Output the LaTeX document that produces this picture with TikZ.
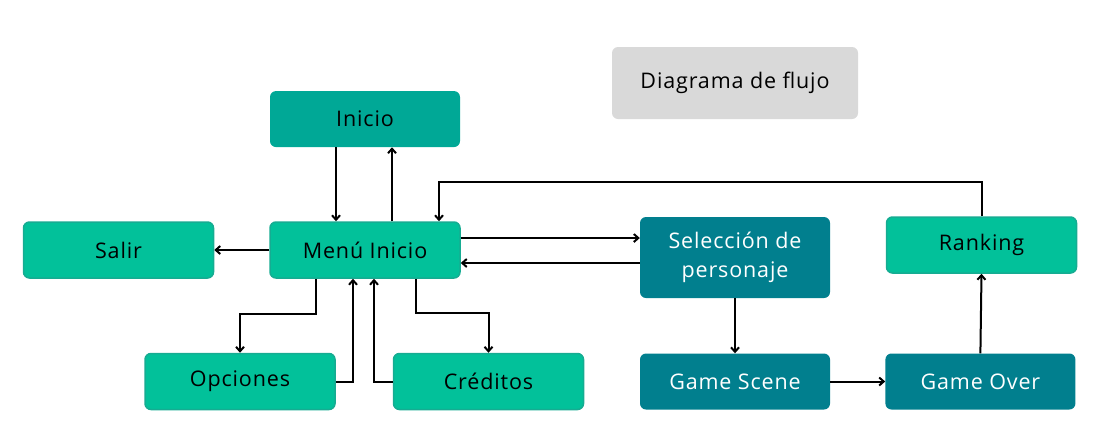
\documentclass[tikz,border=0pt]{standalone}
\usepackage{fontspec}
\setmainfont{Open Sans}[LetterSpace=4]
\usepackage{tikz}
\usetikzlibrary{arrows.meta, positioning, calc}

\definecolor{inicioteal}{RGB}{0,168,150}
\definecolor{mintgreen}{RGB}{2,193,154}
\definecolor{mintborder}{RGB}{22,172,146}
\definecolor{petrol}{RGB}{1,127,142}
\definecolor{titlegrey}{RGB}{217,217,217}

\begin{document}
\begin{tikzpicture}[
    x=1pt, y=-1pt,
    box/.style={rectangle, rounded corners=6pt, minimum width=190pt, minimum height=56pt, inner sep=0pt, align=center, font=\fontsize{21.5}{29}\selectfont},
    lightbox/.style={box, fill=mintgreen, draw=mintborder, line width=1.5pt, text=black},
    startbox/.style={box, fill=inicioteal, text=black},
    darkbox/.style={box, fill=petrol, text=white},
    titlebox/.style={box, fill=titlegrey, minimum width=246pt, minimum height=72pt, text=black},
    arrow/.style={-{Straight Barb[length=4.5pt, width=8pt]}, line width=2pt, draw=black}
  ]
    \useasboundingbox (0,0) rectangle (1106,445);

    % Nodes (title)
    \node[titlebox] (title) at (735,83) {Diagrama de flujo};

    % Nodes (menu part)
    \node[lightbox] (menu) at (365,250) {Menú Inicio};
    \node[startbox, above=74pt of menu] (inicio) {Inicio};
    \node[lightbox, left=55pt of menu] (salir) {Salir};
    \node[lightbox] (opciones) at (240,381.5) {Opciones};
    \node[lightbox, right=57pt of opciones] (creditos) {Créditos};

    % Nodes (game part)
    \node[darkbox, minimum height=81pt] (seleccion) at (735,257.5) {Selección de\\personaje};
    \node[darkbox] (scene) at (735,381.5) {Game Scene};
    \node[darkbox, right=55pt of scene] (over) {Game Over};
    \node[lightbox] (ranking) at (981.5,245) {Ranking};

    % Connections
    \draw[arrow] ([xshift=-29pt]inicio.south) -- ([xshift=-29pt]menu.north);
    \draw[arrow] ([xshift=27pt]menu.north) -- ([xshift=27pt]inicio.south);
    \draw[arrow] (menu.west) -- (salir.east);
    \draw[arrow] ([yshift=12pt]menu.east) -- ([yshift=12pt]menu.east -| seleccion.west);
    \draw[arrow] ([yshift=-5.5pt]seleccion.west) -- ([yshift=-5.5pt]seleccion.west -| menu.east);
    \draw[arrow] ([xshift=-49pt]menu.south) -- ++(0,35) -| (opciones.north);
    \draw[arrow] (opciones.east) -| ([xshift=-12pt]menu.south);
    \draw[arrow] (creditos.west) -| ([xshift=9pt]menu.south);
    \draw[arrow] ([xshift=51pt]menu.south) -- ++(0,34) -| (creditos.north);
    \draw[arrow] (ranking.north) -- ++(0,-34) -| ([xshift=74pt]menu.north);
    \draw[arrow] (seleccion.south) -- (scene.north);
    \draw[arrow] (scene.east) -- (over.west);
    \draw[arrow] (over.north) -- (ranking.south);

  \end{tikzpicture}
\end{document}
